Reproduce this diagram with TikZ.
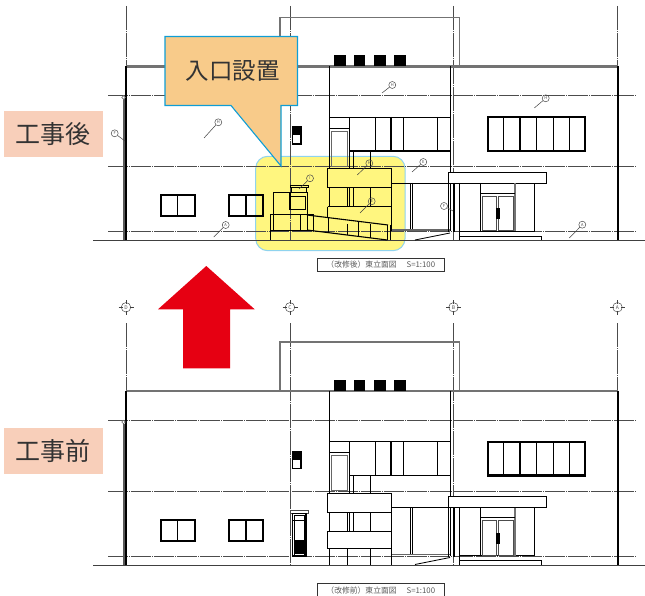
\documentclass[tikz,border=0pt]{standalone}
\usepackage{fontspec}
\setmainfont{Noto Sans CJK JP}
\begin{document}
\begin{tikzpicture}[x=1pt, y=-1pt,
    gridline/.style={black!70, line width=0.9pt},
    levelline/.style={black!70, line width=0.9pt, dash pattern=on 20pt off 1pt on 1pt off 1pt},
    heavyline/.style={black, line width=1.8pt},
    plainline/.style={black, line width=0.8pt},
    softline/.style={black!55, line width=1.4pt},
    tag/.style={fill=tagfill, inner sep=0pt, minimum width=99pt, minimum height=46pt, font=\fontsize{25}{25}\selectfont, text=black!80},
    balloon/.style={draw=black!70, circle, line width=0.5pt, inner sep=0pt, minimum size=7pt, font=\fontsize{4}{4}\selectfont, text=black!70},
    leader/.style={black!75, line width=0.5pt},
    titlebox/.style={draw=black!80, line width=0.8pt, minimum width=127pt, minimum height=13pt, inner sep=0pt, font=\fontsize{7.8}{7.8}\selectfont, text=black!65}]
  \definecolor{tagfill}{HTML}{F8CFBA}
  \definecolor{calloutfill}{HTML}{F8CB8A}
  \definecolor{calloutline}{HTML}{0F9ED5}
  \definecolor{markyellow}{HTML}{FFF67F}
  \definecolor{markline}{HTML}{8FD3EE}
  \definecolor{arrowred}{HTML}{E60012}
  \useasboundingbox (0,0) rectangle (645,596);
  % highlighted area goes under the drawing
  \draw[fill=markyellow, draw=markline, line width=1pt, rounded corners=12pt] (255.7,156.3) rectangle (405,250.7);
  % parts both elevations share
  \foreach \dy/\gridtop/\roofw in {0/6/2.2, 324.5/-1.5/1.6}{
    \begin{scope}[shift={(0,\dy)}]
      \foreach \gx in {126,290,453.5,617.5}
        \draw[gridline, dash pattern=on 24pt off 1pt on 1pt off 1pt] (\gx,\gridtop) -- (\gx,240);
      \foreach \ly in {95.5,166.5,231.5}
        \draw[levelline] (108,\ly) -- (635.7,\ly);
      \draw[black!75, line width=1pt] (93,240.5) -- (645,240.5);
      % outline
      \draw[softline, line width=\roofw pt] (126,66.5) -- (618,66.5);
      \draw[softline] (280,66) -- (280,17.5) -- (459.3,17.5) -- (459.3,66);
      \draw[heavyline, line width=1.4pt] (126,66) -- (126,240);
      \draw[heavyline, line width=1.4pt] (618,66) -- (618,240);
      \draw[black!65, line width=2pt] (123.5,99) -- (123.5,240);
      \draw[black!60, fill=white, line width=0.6pt] (123.5,97.5) circle (1.8pt);
      \foreach \sx in {334,353.7,374,394}
        \fill[black] (\sx,55) rectangle +(11.5,11);
      % upper band
      \draw[plainline] (329,66) -- (329,117);
      \draw[plainline] (450,66) -- (450,231);
      \draw[plainline, line width=1.1pt] (329,117.3) -- (450,117.3) (349.3,151) -- (450,151);
      \foreach \mx/\mw in {349.3/1.2, 375/0.9, 391/1.5, 403.3/0.9, 437.3/0.9}
        \draw[black, line width=\mw pt] (\mx,117) -- (\mx,151);
      \draw[plainline] (329,117) -- (329,168) (329,128) -- (349,128);
      \draw[black!60, line width=0.9pt] (331,131) rectangle (347.5,166);
      \draw[plainline] (349,151) -- (349,168) (353,151) -- (353,168) (370.7,151) -- (370.7,168);
      % balcony gaps
      \foreach \bx in {329,347,349,353,370.7}
        \draw[plainline] (\bx,187.5) -- (\bx,206.5);
      \draw[plainline, line width=1pt] (327.5,168.7) rectangle (391.5,187.5);
      \draw[plainline] (391.7,183) -- (450,183);
      % ground floor glass
      \draw[plainline, line width=1pt] (391.7,187.5) -- (391.7,231) (410.7,183) -- (410.7,230) (412.5,183) -- (412.5,230);
      \draw[black!60, line width=1.1pt] (391.7,230) -- (450,230);
      \draw[plainline] (415,240) -- (450,233);
      % entrance
      \draw[plainline, fill=white] (448.3,172.3) rectangle (546.7,183);
      \draw[heavyline, line width=2pt] (453.5,183) -- (453.5,232);
      \draw[plainline] (448.3,183) -- (448.3,232) (459.3,183) -- (459.3,240);
      \draw[plainline, line width=1pt] (459.3,231) -- (534,231) -- (534,183);
      \draw[plainline] (459.3,236) -- (541.7,236) -- (541.7,240);
      \draw[heavyline, line width=1.2pt] (480.7,183) -- (480.7,231);
      \draw[softline] (515,183) -- (515,231);
      \draw[plainline] (481,193.3) -- (515,193.3);
      \draw[black!70, line width=0.9pt] (482.5,196) rectangle (496.7,230.5) (498.3,196) rectangle (513.3,230.5);
      \fill[black] (496,208) rectangle (500,219);
      % windows
      \draw[heavyline, line width=2.2pt] (487.7,117.3) rectangle (585.3,151);
      \foreach \mx/\mw in {503.3/1, 520/1.5, 536.7/1, 553.3/1.5, 569.3/1}
        \draw[black, line width=\mw pt] (\mx,117) -- (\mx,151);
      \foreach \wl/\wm/\wr in {161/177.7/194.6, 228.8/246/263.2}{
        \draw[heavyline] (\wl,195.3) rectangle (\wr,216.4);
        \draw[black, line width=1.1pt] (\wm,195) -- (\wm,216.4);
      }
      \draw[heavyline, line width=1.1pt] (292.3,126.7) rectangle (301,144);
      \fill[black] (292.3,126.7) rectangle (301,135);
    \end{scope}
  }
  % after the works: new entrance and ramp
  \draw[plainline, line width=1pt] (327.5,207) -- (391.5,207) (327.5,207) -- (327.5,218) (391.5,207) -- (391.5,225);
  \draw[plainline] (290,185.7) rectangle (308.7,187.7) (291.7,187.7) -- (291.7,192) (306.7,187.7) -- (306.7,192);
  \draw[heavyline, line width=1.4pt] (273.3,231) -- (273.3,192.3) -- (307.3,192.3) -- (307.3,231);
  \draw[black, line width=0.9pt] (290,196) rectangle (305.7,209.3);
  \draw[heavyline, line width=1.3pt] (290,192.3) -- (290,209.3) -- (306,209.3);
  \draw[plainline, line width=1pt] (270.7,240) -- (270.7,215) -- (313.3,215) -- (313.3,230) -- (270.7,230);
  \draw[plainline] (300,215) -- (300,230);
  \draw[heavyline, line width=1.1pt] (307,215) -- (388,225) (307,230) -- (387.3,240);
  \foreach \px/\ptop/\pbot in {328.3/217.5/232.6, 358.3/221.5/236.3, 387.3/225/240}
    \draw[black, line width=1.5pt] (\px,\ptop) -- (\px,\pbot);
  \foreach \px/\ptop/\pbot in {347.3/224/234.8, 370.7/224/237.8, 390/225/240}
    \draw[plainline] (\px,\ptop) -- (\px,\pbot);
  % before the works: lower balcony and old door
  \begin{scope}[shift={(0,324.5)}]
    \draw[plainline, line width=1pt] (327.5,206.5) rectangle (391.5,224);
    \foreach \bx in {329,347,370.7,391.5}
      \draw[plainline] (\bx,224) -- (\bx,240);
    \draw[plainline, black!70] (290,185.7) rectangle (308.7,188.7);
    \draw[heavyline, line width=1.2pt] (292.5,188.7) rectangle (306,231.5);
    \draw[plainline] (294.5,191) rectangle (304,231) (292.5,196) -- (306,196);
    \fill[black] (294.5,215) rectangle (304,229);
  \end{scope}
  % leaders
  \foreach \nn/\cx/\cy/\lx/\ly/\txt in {a/114.7/133.3/125/141/F, b/218.3/122.3/204/138/H, c/225.7/225/213.7/237/A, d/310/178.3/299/189/I, e/392.3/85/382/93/H, f/545.7/98.3/534.3/108/H, g/423.3/162/412/172/E, h/369.3/163.3/357.3/175/H, k/371.7/201.3/360/213/E, m/444/206/453/211/F, n/582.3/224.7/569.3/238/A}{
    \node[balloon] (mark\nn) at (\cx,\cy) {\txt};
    \coordinate (foot\nn) at (\lx,\ly);
    \draw[leader] (mark\nn) -- (foot\nn);
  }
  % grid marks
  \foreach \nn/\gx/\txt in {D/126/D, C/290/C, B/453.5/B, A/617.5/A}{
    \node[balloon, minimum size=9.5pt, font=\fontsize{5}{5}\selectfont] (grid\nn) at (\gx,307.3) {\txt};
    \draw[black!75, line width=0.6pt] (\gx-7.5,307.3) -- (\gx-3.5,307.3) (\gx+3.5,307.3) -- (\gx+7.5,307.3) (\gx,300) -- (\gx,303.5) (\gx,311) -- (\gx,314.6);
  }
  % callout over the drawing
  \draw[fill=calloutfill, draw=calloutline, line width=1.1pt] (165,36.5) -- (297.5,36.5) -- (297.5,105.5) -- (281,105.5) -- (281,166) -- (231,105.5) -- (165,105.5) -- cycle;
  \node[font=\fontsize{23.5}{23.5}\selectfont, text=black!80] (calloutlabel) at (232.5,71) {入口設置};
  % red arrow
  \fill[arrowred] (206.3,266) -- (254.7,309.3) -- (230,309.3) -- (230,368.3) -- (183,368.3) -- (183,309.3) -- (158,309.3) -- cycle;
  \node[tag] (after) at (53.5,134) {工事後};
  \node[tag] (before) at (53.5,451) {工事前};
  \node[titlebox] (aftertitle) at (380.8,265) {（改修後）東立面図\hspace{10pt}S=1:100};
  \node[titlebox, anchor=north] (beforetitle) at (380.8,583.3) {（改修前）東立面図\hspace{10pt}S=1:100};
\end{tikzpicture}
\end{document}
